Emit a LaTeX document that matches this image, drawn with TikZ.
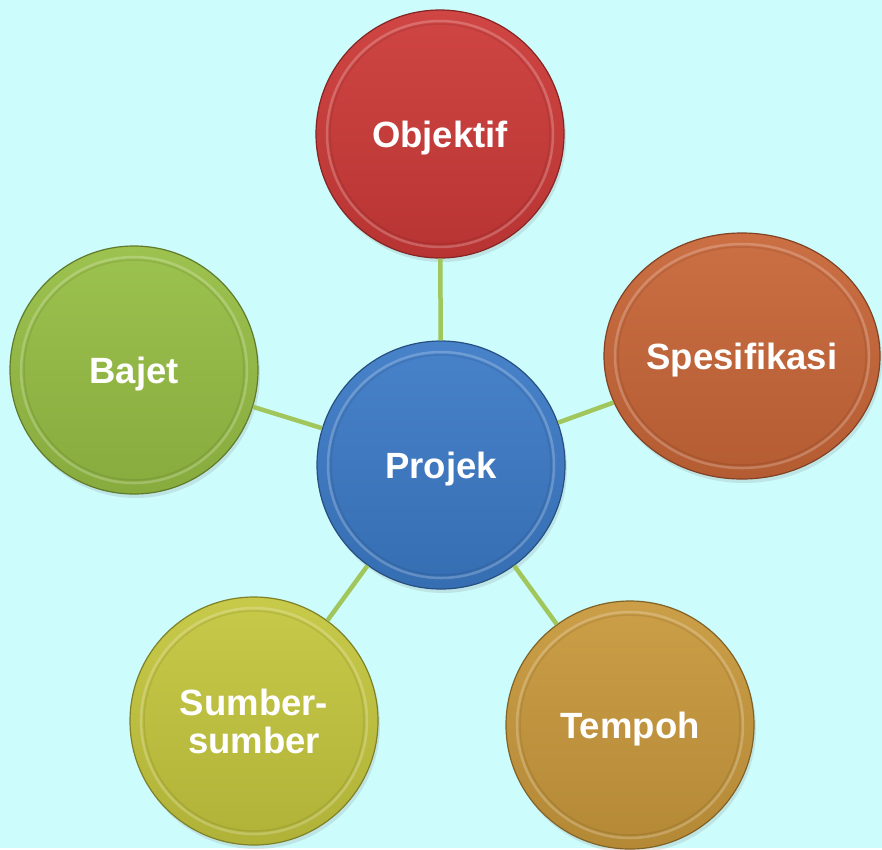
\documentclass[tikz,border=0pt]{standalone}
\usepackage{fontspec}
\setmainfont{Liberation Sans}
\usetikzlibrary{shapes.geometric, shadows, calc}

\definecolor{bgcyan}{RGB}{204,252,252}
\definecolor{linkgreen}{RGB}{160,198,92}
\definecolor{objred}{RGB}{204,58,56}
\definecolor{specorange}{RGB}{200,102,56}
\definecolor{bajetgreen}{RGB}{150,190,68}
\definecolor{projblue}{RGB}{60,122,198}
\definecolor{sumberyellow}{RGB}{196,198,62}
\definecolor{tempohgold}{RGB}{200,152,60}

\tikzset{
  bubble/.style={circle, minimum size=248pt, inner sep=0pt, align=center,
    text=white, font=\bfseries\fontsize{36.5}{38}\selectfont, text depth=0pt,
    line width=1.2pt, draw=#1!65!black,
    top color=#1!94!white, bottom color=#1!90!black,
    drop shadow={opacity=0.18, shadow xshift=2pt, shadow yshift=-4pt},
    path picture={
      \draw [white, opacity=0.22, line width=2.5pt]
        let \p1 = ($(path picture bounding box.north east)-(path picture bounding box.center)$) in
        (path picture bounding box.center) ellipse ({\x1-11pt} and {\y1-11pt});
      \draw [black, opacity=0.08, line width=1.5pt]
        let \p1 = ($(path picture bounding box.north east)-(path picture bounding box.center)$) in
        (path picture bounding box.center) ellipse ({\x1-14pt} and {\y1-14pt});
    }},
  oval/.style={bubble=#1, ellipse, minimum width=276pt, minimum height=246pt},
  link/.style={linkgreen, line width=4.5pt}
}

\begin{document}
\begin{tikzpicture}[thick, x=1pt, y=-1pt]
  \fill [bgcyan] (0,0) rectangle (882,848);
  \node [bubble=projblue] (projek) at (441,465) {Projek};
  \node [bubble=objred] (objektif) at (440,134) {Objektif};
  \node [oval=specorange] (spesifikasi) at (742,356) {Spesifikasi};
  \node [bubble=tempohgold] (tempoh) at (630,725) {Tempoh};
  \node [bubble=sumberyellow] (sumber) at (254,721) {Sumber-\\sumber};
  \node [bubble=bajetgreen] (bajet) at (134,370) {Bajet};
  \foreach \N in {objektif, spesifikasi, tempoh, sumber, bajet} {
    \draw [link] (projek) -- (\N);
  }
\end{tikzpicture}
\end{document}
